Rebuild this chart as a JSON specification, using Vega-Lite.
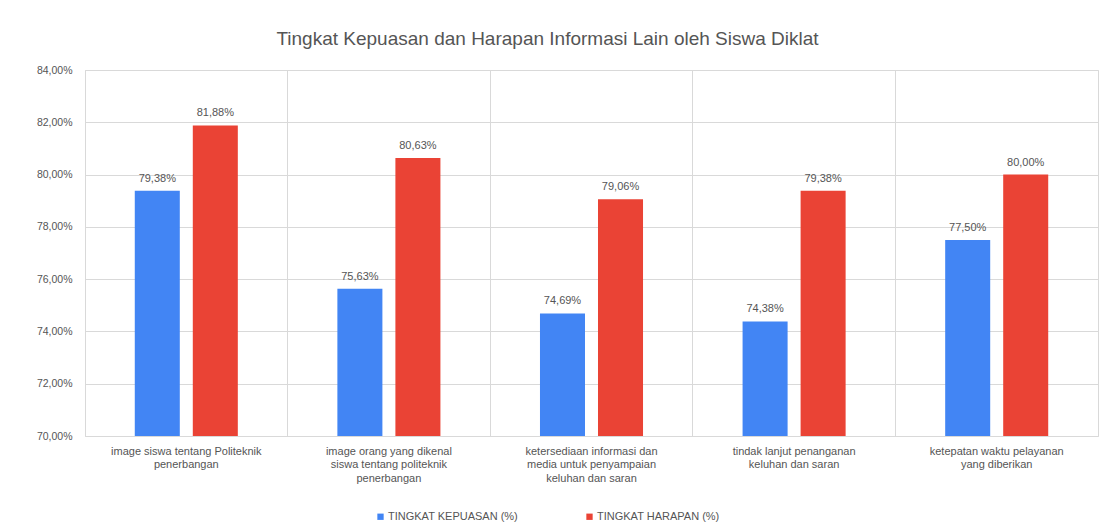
{
  "$schema": "https://vega.github.io/schema/vega-lite/v6.json",
  "autosize": "none",
  "width": 1013,
  "height": 366,
  "padding": {"left": 85, "top": 70, "right": 20, "bottom": 95},
  "background": "white",
  "config": {
    "font": "Liberation Sans",
    "locale": {"number": {"decimal": ",", "thousands": ".", "grouping": [3], "currency": ["Rp", ""]}},
    "view": {"stroke": "#d9d9d9", "strokeWidth": 1}
  },
  "title": {
    "text": "Tingkat Kepuasan dan Harapan Informasi Lain oleh Siswa Diklat",
    "fontSize": 19,
    "fontWeight": "normal",
    "color": "#555555",
    "anchor": "middle",
    "dx": -44,
    "offset": 16
  },
  "data": {
    "values": [
      {"aspek": "image siswa tentang Politeknik|penerbangan", "seri": "TINGKAT KEPUASAN (%)", "nilai": 0.7938},
      {"aspek": "image siswa tentang Politeknik|penerbangan", "seri": "TINGKAT HARAPAN (%)", "nilai": 0.8188},
      {"aspek": "image orang yang dikenal|siswa tentang politeknik|penerbangan", "seri": "TINGKAT KEPUASAN (%)", "nilai": 0.7563},
      {"aspek": "image orang yang dikenal|siswa tentang politeknik|penerbangan", "seri": "TINGKAT HARAPAN (%)", "nilai": 0.8063},
      {"aspek": "ketersediaan informasi dan|media untuk penyampaian|keluhan dan saran", "seri": "TINGKAT KEPUASAN (%)", "nilai": 0.7469},
      {"aspek": "ketersediaan informasi dan|media untuk penyampaian|keluhan dan saran", "seri": "TINGKAT HARAPAN (%)", "nilai": 0.7906},
      {"aspek": "tindak lanjut penanganan|keluhan dan saran", "seri": "TINGKAT KEPUASAN (%)", "nilai": 0.7438},
      {"aspek": "tindak lanjut penanganan|keluhan dan saran", "seri": "TINGKAT HARAPAN (%)", "nilai": 0.7938},
      {"aspek": "ketepatan waktu pelayanan|yang diberikan", "seri": "TINGKAT KEPUASAN (%)", "nilai": 0.775},
      {"aspek": "ketepatan waktu pelayanan|yang diberikan", "seri": "TINGKAT HARAPAN (%)", "nilai": 0.8}
    ]
  },
  "encoding": {
    "x": {
      "field": "aspek",
      "type": "nominal",
      "sort": null,
      "title": null,
      "scale": {"paddingInner": 0, "paddingOuter": 0},
      "axis": {
        "labelAngle": 0,
        "labelExpr": "split(datum.value, '|')",
        "labelFontSize": 11,
        "labelColor": "#555555",
        "labelLineHeight": 13.5,
        "labelPadding": 9,
        "labelBaseline": "top",
        "ticks": false,
        "domain": false,
        "grid": true,
        "bandPosition": 0,
        "gridColor": "#d9d9d9"
      }
    },
    "xOffset": {
      "field": "seri",
      "type": "nominal",
      "sort": ["TINGKAT KEPUASAN (%)", "TINGKAT HARAPAN (%)"],
      "scale": {"paddingInner": 0.224, "paddingOuter": 0.858}
    },
    "y": {
      "field": "nilai",
      "type": "quantitative",
      "title": null,
      "scale": {"domain": [0.7, 0.84], "nice": false, "zero": false},
      "axis": {
        "values": [0.7, 0.72, 0.74, 0.76, 0.78, 0.8, 0.82, 0.84],
        "format": ".2%",
        "labelFontSize": 10.5,
        "labelColor": "#555555",
        "labelPadding": 13,
        "ticks": false,
        "domain": false,
        "gridColor": "#d9d9d9"
      }
    }
  },
  "layer": [
    {
      "mark": {"type": "bar", "clip": true},
      "encoding": {
        "color": {
          "field": "seri",
          "type": "nominal",
          "sort": ["TINGKAT KEPUASAN (%)", "TINGKAT HARAPAN (%)"],
          "scale": {"range": ["#4285F4", "#EA4335"]},
          "legend": {
            "title": null,
            "orient": "none",
            "direction": "horizontal",
            "legendX": 290,
            "legendY": 441,
            "symbolType": "square",
            "symbolSize": 40,
            "symbolStrokeWidth": 0,
            "labelFontSize": 11,
            "labelColor": "#555555",
            "labelOffset": 2,
            "columnPadding": 66
          }
        }
      }
    },
    {
      "mark": {"type": "text", "baseline": "bottom", "dy": -7, "fontSize": 11, "color": "#555555"},
      "encoding": {
        "text": {"field": "nilai", "type": "quantitative", "format": ".2%"}
      }
    }
  ]
}
